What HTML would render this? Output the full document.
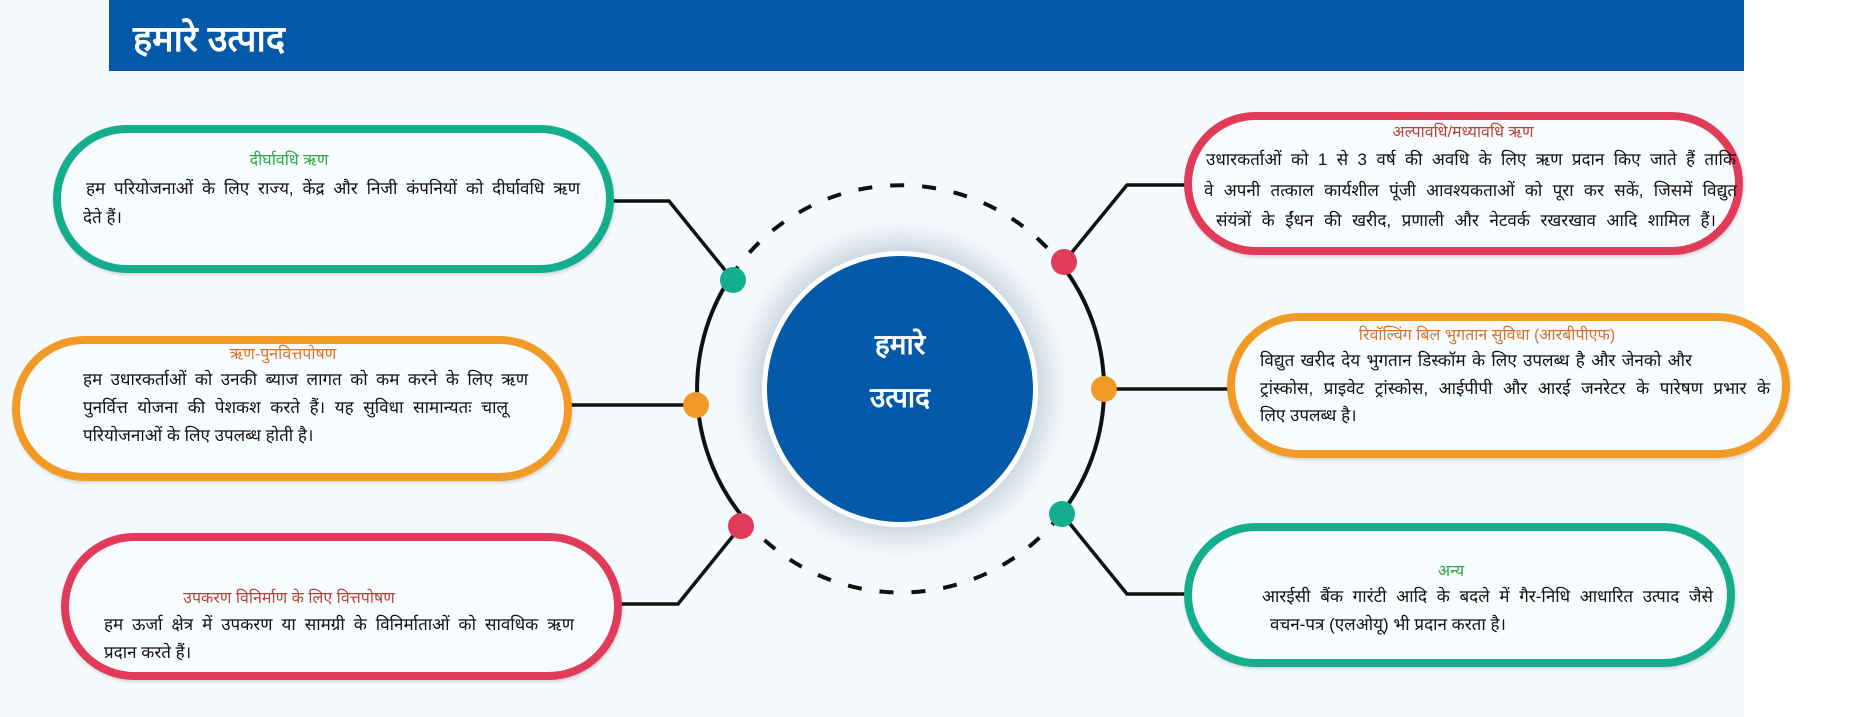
<!DOCTYPE html>
<html><head><meta charset="utf-8">
<style>
html,body{margin:0;padding:0;}
body{width:1850px;height:717px;position:relative;overflow:hidden;background:#fff;font-family:"Liberation Sans","Noto Sans CJK SC",sans-serif;}
.bg{position:absolute;left:0;top:0;width:1744px;height:717px;background:#f5fafd;}
.hdr{position:absolute;left:109px;top:0;width:1635px;height:71px;background:#0459a8;}
.hdr span{position:absolute;left:24px;top:13px;color:#fff;font-size:36px;font-weight:bold;}
.box{position:absolute;box-sizing:border-box;border-radius:80px;border:8px solid;background:#f8fcfe;box-shadow:1px 2px 3px rgba(0,0,0,.15);}
.t{position:absolute;white-space:nowrap;font-size:17px;color:#111;}
.j{text-align:justify;text-align-last:justify;white-space:normal;}
.ti{position:absolute;white-space:nowrap;font-size:16px;transform:translateX(-50%);}
.cc{position:absolute;left:762px;top:251px;width:276px;height:276px;border-radius:50%;box-sizing:border-box;background:#0459a8;border:5px solid #fff;box-shadow:0 0 25px 12px rgba(120,140,170,.35);}
.ct{position:absolute;color:#fff;font-size:28px;font-weight:bold;transform:translateX(-50%);white-space:nowrap;}
</style></head><body>
<div class="bg"></div>
<div class="hdr"><span>हमारे उत्पाद</span></div>

<svg style="position:absolute;left:0;top:0" width="1850" height="717">
<path d="M730 278 A203 203 0 0 1 1061 264" fill="none" stroke="#111" stroke-width="4" stroke-dasharray="14 18"/>
<path d="M1061 514 A203 203 0 0 1 746 521" fill="none" stroke="#111" stroke-width="4" stroke-dasharray="14 18"/>
<path d="M730 278 A203 203 0 0 0 746 521" fill="none" stroke="#111" stroke-width="4"/>
<path d="M1061 264 A203 203 0 0 1 1061 514" fill="none" stroke="#111" stroke-width="4"/>
<g fill="none" stroke="#111" stroke-width="3.5">
<polyline points="733,280 669,201 612,201"/>
<polyline points="696,405 570,405"/>
<polyline points="741,526 678,604 620,604"/>
<polyline points="1064,262 1127,185 1186,185"/>
<polyline points="1104,389 1229,389"/>
<polyline points="1062,514 1127,594 1186,594"/>
</g>
<circle cx="733" cy="280" r="13" fill="#14ad8e"/>
<circle cx="696" cy="405" r="13" fill="#f29a26"/>
<circle cx="741" cy="526" r="13" fill="#e23a59"/>
<circle cx="1064" cy="262" r="13" fill="#e23a59"/>
<circle cx="1104" cy="389" r="13" fill="#f29a26"/>
<circle cx="1062" cy="514" r="13" fill="#14ad8e"/>
</svg>

<div class="cc"></div>
<div class="ct" style="left:900px;top:325px">हमारे</div>
<div class="ct" style="left:900px;top:378px">उत्पाद</div>

<div class="box" style="left:53px;top:125px;width:561px;height:148px;border-color:#14ad8e"></div>
<div class="ti" style="left:289px;top:148px;color:#2ea84a">दीर्घावधि ऋण</div>
<div class="t j" style="left:86px;top:176px;width:494px">हम परियोजनाओं के लिए राज्य, केंद्र और निजी कंपनियों को दीर्घावधि ऋण</div>
<div class="t" style="left:83px;top:205px">देते हैं।</div>

<div class="box" style="left:12px;top:336px;width:560px;height:145px;border-color:#f29a26"></div>
<div class="ti" style="left:283px;top:342px;color:#d9742a">ऋण-पुनवित्तपोषण</div>
<div class="t j" style="left:83px;top:367px;width:445px">हम उधारकर्ताओं को उनकी ब्याज लागत को कम करने के लिए ऋण</div>
<div class="t j" style="left:83px;top:395px;width:425px">पुनर्वित्त योजना की पेशकश करते हैं। यह सुविधा सामान्यतः चालू</div>
<div class="t" style="left:83px;top:423px">परियोजनाओं के लिए उपलब्ध होती है।</div>

<div class="box" style="left:61px;top:533px;width:561px;height:147px;border-color:#e23a59"></div>
<div class="ti" style="left:289px;top:586px;color:#b5453a">उपकरण विनिर्माण के लिए वित्तपोषण</div>
<div class="t j" style="left:104px;top:612px;width:470px">हम ऊर्जा क्षेत्र में उपकरण या सामग्री के विनिर्माताओं को सावधिक ऋण</div>
<div class="t" style="left:104px;top:640px">प्रदान करते हैं।</div>

<div class="box" style="left:1184px;top:112px;width:559px;height:143px;border-color:#e23a59"></div>
<div class="ti" style="left:1463px;top:120px;color:#b5453a">अल्पावधि/मध्यावधि ऋण</div>
<div class="t j" style="left:1206px;top:147px;width:530px">उधारकर्ताओं को 1 से 3 वर्ष की अवधि के लिए ऋण प्रदान किए जाते हैं ताकि</div>
<div class="t j" style="left:1204px;top:178px;width:533px">वे अपनी तत्काल कार्यशील पूंजी आवश्यकताओं को पूरा कर सकें, जिसमें विद्युत</div>
<div class="t j" style="left:1216px;top:208px;width:500px">संयंत्रों के ईंधन की खरीद, प्रणाली और नेटवर्क रखरखाव आदि शामिल हैं।</div>

<div class="box" style="left:1227px;top:313px;width:563px;height:145px;border-color:#f29a26"></div>
<div class="ti" style="left:1487px;top:323px;color:#d9742a">रिवॉल्विंग बिल भुगतान सुविधा (आरबीपीएफ)</div>
<div class="t j" style="left:1260px;top:348px;width:432px">विद्युत खरीद देय भुगतान डिस्कॉम के लिए उपलब्ध है और जेनको और</div>
<div class="t j" style="left:1260px;top:376px;width:510px">ट्रांस्कोस, प्राइवेट ट्रांस्कोस, आईपीपी और आरई जनरेटर के पारेषण प्रभार के</div>
<div class="t" style="left:1260px;top:403px">लिए उपलब्ध है।</div>

<div class="box" style="left:1184px;top:523px;width:551px;height:144px;border-color:#14ad8e"></div>
<div class="ti" style="left:1451px;top:559px;color:#2ea84a">अन्य</div>
<div class="t j" style="left:1262px;top:584px;width:451px">आरईसी बैंक गारंटी आदि के बदले में गैर-निधि आधारित उत्पाद जैसे</div>
<div class="t" style="left:1270px;top:612px">वचन-पत्र (एलओयू) भी प्रदान करता है।</div>
</body></html>
